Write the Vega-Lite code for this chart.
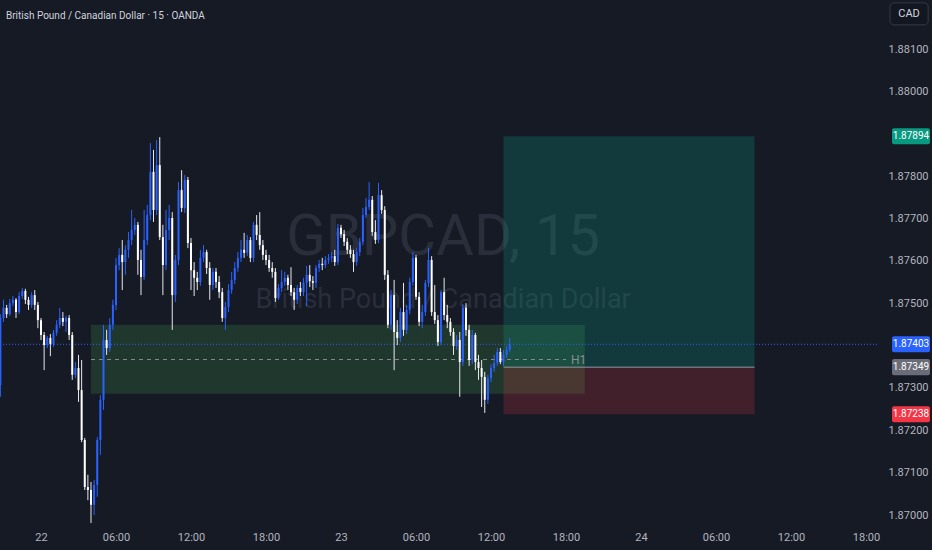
{
  "$schema": "https://vega.github.io/schema/vega-lite/v6.json",
  "width": 877,
  "height": 527,
  "autosize": "none",
  "padding": {"left": 0, "top": 0, "right": 55, "bottom": 23},
  "background": "#161a25",
  "config": {"view": {"stroke": null}, "font": "Roboto, sans-serif"},
  "datasets": {
    "candles": [
      {"hr":-3.25,"o":1.87307,"h":1.87474,"l":1.87279,"c":1.87465},
      {"hr":-3.0,"o":1.87465,"h":1.87508,"l":1.87456,"c":1.87489},
      {"hr":-2.75,"o":1.87489,"h":1.87496,"l":1.87465,"c":1.87474},
      {"hr":-2.5,"o":1.87474,"h":1.87510,"l":1.87470,"c":1.87500},
      {"hr":-2.25,"o":1.87500,"h":1.87517,"l":1.87493,"c":1.87508},
      {"hr":-2.0,"o":1.87508,"h":1.87512,"l":1.87465,"c":1.87479},
      {"hr":-1.75,"o":1.87479,"h":1.87526,"l":1.87474,"c":1.87517},
      {"hr":-1.5,"o":1.87517,"h":1.87536,"l":1.87510,"c":1.87529},
      {"hr":-1.25,"o":1.87529,"h":1.87534,"l":1.87498,"c":1.87508},
      {"hr":-1.0,"o":1.87508,"h":1.87515,"l":1.87484,"c":1.87496},
      {"hr":-0.75,"o":1.87496,"h":1.87526,"l":1.87489,"c":1.87519},
      {"hr":-0.5,"o":1.87519,"h":1.87531,"l":1.87484,"c":1.87496},
      {"hr":-0.25,"o":1.87496,"h":1.87503,"l":1.87441,"c":1.87460},
      {"hr":0.0,"o":1.87460,"h":1.87465,"l":1.87413,"c":1.87425},
      {"hr":0.25,"o":1.87425,"h":1.87432,"l":1.87342,"c":1.87401},
      {"hr":0.5,"o":1.87401,"h":1.87423,"l":1.87394,"c":1.87418},
      {"hr":0.75,"o":1.87418,"h":1.87427,"l":1.87375,"c":1.87404},
      {"hr":1.0,"o":1.87404,"h":1.87437,"l":1.87397,"c":1.87430},
      {"hr":1.25,"o":1.87430,"h":1.87460,"l":1.87423,"c":1.87449},
      {"hr":1.5,"o":1.87449,"h":1.87489,"l":1.87441,"c":1.87465},
      {"hr":1.75,"o":1.87465,"h":1.87479,"l":1.87446,"c":1.87456},
      {"hr":2.0,"o":1.87456,"h":1.87470,"l":1.87432,"c":1.87465},
      {"hr":2.25,"o":1.87465,"h":1.87472,"l":1.87413,"c":1.87425},
      {"hr":2.5,"o":1.87425,"h":1.87432,"l":1.87319,"c":1.87331},
      {"hr":2.75,"o":1.87331,"h":1.87361,"l":1.87323,"c":1.87347},
      {"hr":3.0,"o":1.87347,"h":1.87378,"l":1.87267,"c":1.87295},
      {"hr":3.25,"o":1.87295,"h":1.87366,"l":1.87172,"c":1.87177},
      {"hr":3.5,"o":1.87177,"h":1.87182,"l":1.87059,"c":1.87066},
      {"hr":3.75,"o":1.87066,"h":1.87095,"l":1.87035,"c":1.87059},
      {"hr":4.0,"o":1.87059,"h":1.87078,"l":1.86981,"c":1.87024},
      {"hr":4.25,"o":1.87024,"h":1.87083,"l":1.87000,"c":1.87071},
      {"hr":4.5,"o":1.87071,"h":1.87184,"l":1.87043,"c":1.87177},
      {"hr":4.75,"o":1.87177,"h":1.87283,"l":1.87142,"c":1.87272},
      {"hr":5.0,"o":1.87272,"h":1.87449,"l":1.87248,"c":1.87413},
      {"hr":5.25,"o":1.87413,"h":1.87437,"l":1.87378,"c":1.87394},
      {"hr":5.5,"o":1.87394,"h":1.87465,"l":1.87385,"c":1.87449},
      {"hr":5.75,"o":1.87449,"h":1.87508,"l":1.87437,"c":1.87496},
      {"hr":6.0,"o":1.87496,"h":1.87607,"l":1.87484,"c":1.87590},
      {"hr":6.25,"o":1.87590,"h":1.87630,"l":1.87578,"c":1.87614},
      {"hr":6.5,"o":1.87614,"h":1.87649,"l":1.87531,"c":1.87597},
      {"hr":6.75,"o":1.87597,"h":1.87637,"l":1.87567,"c":1.87626},
      {"hr":7.0,"o":1.87626,"h":1.87668,"l":1.87607,"c":1.87649},
      {"hr":7.25,"o":1.87649,"h":1.87720,"l":1.87637,"c":1.87673},
      {"hr":7.5,"o":1.87673,"h":1.87701,"l":1.87661,"c":1.87685},
      {"hr":7.75,"o":1.87685,"h":1.87692,"l":1.87567,"c":1.87602},
      {"hr":8.0,"o":1.87602,"h":1.87626,"l":1.87519,"c":1.87562},
      {"hr":8.25,"o":1.87562,"h":1.87720,"l":1.87555,"c":1.87649},
      {"hr":8.5,"o":1.87649,"h":1.87732,"l":1.87637,"c":1.87708},
      {"hr":8.75,"o":1.87708,"h":1.87878,"l":1.87696,"c":1.87810},
      {"hr":9.0,"o":1.87810,"h":1.87862,"l":1.87692,"c":1.87720},
      {"hr":9.25,"o":1.87720,"h":1.87885,"l":1.87708,"c":1.87826},
      {"hr":9.5,"o":1.87826,"h":1.87892,"l":1.87649,"c":1.87656},
      {"hr":9.75,"o":1.87656,"h":1.87685,"l":1.87519,"c":1.87590},
      {"hr":10.0,"o":1.87590,"h":1.87720,"l":1.87578,"c":1.87673},
      {"hr":10.25,"o":1.87673,"h":1.87732,"l":1.87649,"c":1.87701},
      {"hr":10.5,"o":1.87701,"h":1.87715,"l":1.87437,"c":1.87519},
      {"hr":10.75,"o":1.87519,"h":1.87614,"l":1.87503,"c":1.87602},
      {"hr":11.0,"o":1.87602,"h":1.87786,"l":1.87590,"c":1.87767},
      {"hr":11.25,"o":1.87767,"h":1.87814,"l":1.87715,"c":1.87725},
      {"hr":11.5,"o":1.87725,"h":1.87803,"l":1.87713,"c":1.87791},
      {"hr":11.75,"o":1.87791,"h":1.87798,"l":1.87630,"c":1.87642},
      {"hr":12.0,"o":1.87642,"h":1.87654,"l":1.87531,"c":1.87578},
      {"hr":12.25,"o":1.87578,"h":1.87597,"l":1.87517,"c":1.87560},
      {"hr":12.5,"o":1.87560,"h":1.87574,"l":1.87531,"c":1.87550},
      {"hr":12.75,"o":1.87550,"h":1.87626,"l":1.87541,"c":1.87607},
      {"hr":13.0,"o":1.87607,"h":1.87637,"l":1.87597,"c":1.87621},
      {"hr":13.25,"o":1.87621,"h":1.87626,"l":1.87569,"c":1.87583},
      {"hr":13.5,"o":1.87583,"h":1.87597,"l":1.87508,"c":1.87543},
      {"hr":13.75,"o":1.87543,"h":1.87583,"l":1.87531,"c":1.87574},
      {"hr":14.0,"o":1.87574,"h":1.87583,"l":1.87536,"c":1.87550},
      {"hr":14.25,"o":1.87550,"h":1.87564,"l":1.87512,"c":1.87526},
      {"hr":14.5,"o":1.87526,"h":1.87536,"l":1.87456,"c":1.87465},
      {"hr":14.75,"o":1.87465,"h":1.87503,"l":1.87437,"c":1.87491},
      {"hr":15.0,"o":1.87491,"h":1.87545,"l":1.87479,"c":1.87531},
      {"hr":15.25,"o":1.87531,"h":1.87574,"l":1.87522,"c":1.87555},
      {"hr":15.5,"o":1.87555,"h":1.87597,"l":1.87545,"c":1.87583},
      {"hr":15.75,"o":1.87583,"h":1.87621,"l":1.87574,"c":1.87607},
      {"hr":16.0,"o":1.87607,"h":1.87649,"l":1.87597,"c":1.87626},
      {"hr":16.25,"o":1.87626,"h":1.87666,"l":1.87607,"c":1.87619},
      {"hr":16.5,"o":1.87619,"h":1.87661,"l":1.87611,"c":1.87649},
      {"hr":16.75,"o":1.87649,"h":1.87656,"l":1.87597,"c":1.87607},
      {"hr":17.0,"o":1.87607,"h":1.87692,"l":1.87597,"c":1.87685},
      {"hr":17.25,"o":1.87685,"h":1.87708,"l":1.87649,"c":1.87661},
      {"hr":17.5,"o":1.87661,"h":1.87715,"l":1.87626,"c":1.87637},
      {"hr":17.75,"o":1.87637,"h":1.87649,"l":1.87602,"c":1.87614},
      {"hr":18.0,"o":1.87614,"h":1.87626,"l":1.87590,"c":1.87602},
      {"hr":18.25,"o":1.87602,"h":1.87614,"l":1.87574,"c":1.87583},
      {"hr":18.5,"o":1.87583,"h":1.87597,"l":1.87560,"c":1.87574},
      {"hr":18.75,"o":1.87574,"h":1.87583,"l":1.87503,"c":1.87512},
      {"hr":19.0,"o":1.87512,"h":1.87545,"l":1.87508,"c":1.87536},
      {"hr":19.25,"o":1.87536,"h":1.87578,"l":1.87526,"c":1.87550},
      {"hr":19.5,"o":1.87550,"h":1.87574,"l":1.87541,"c":1.87560},
      {"hr":19.75,"o":1.87560,"h":1.87567,"l":1.87531,"c":1.87543},
      {"hr":20.0,"o":1.87543,"h":1.87585,"l":1.87517,"c":1.87526},
      {"hr":20.25,"o":1.87526,"h":1.87536,"l":1.87484,"c":1.87508},
      {"hr":20.5,"o":1.87508,"h":1.87543,"l":1.87498,"c":1.87536},
      {"hr":20.75,"o":1.87536,"h":1.87550,"l":1.87517,"c":1.87526},
      {"hr":21.0,"o":1.87526,"h":1.87560,"l":1.87517,"c":1.87548},
      {"hr":21.25,"o":1.87548,"h":1.87588,"l":1.87493,"c":1.87567},
      {"hr":21.5,"o":1.87567,"h":1.87590,"l":1.87538,"c":1.87552},
      {"hr":21.75,"o":1.87552,"h":1.87564,"l":1.87531,"c":1.87548},
      {"hr":22.0,"o":1.87548,"h":1.87590,"l":1.87536,"c":1.87583},
      {"hr":22.25,"o":1.87583,"h":1.87602,"l":1.87574,"c":1.87593},
      {"hr":22.5,"o":1.87593,"h":1.87607,"l":1.87578,"c":1.87590},
      {"hr":22.75,"o":1.87590,"h":1.87611,"l":1.87583,"c":1.87602},
      {"hr":23.0,"o":1.87602,"h":1.87616,"l":1.87593,"c":1.87607},
      {"hr":23.25,"o":1.87607,"h":1.87621,"l":1.87597,"c":1.87611},
      {"hr":23.5,"o":1.87611,"h":1.87626,"l":1.87588,"c":1.87597},
      {"hr":23.75,"o":1.87597,"h":1.87687,"l":1.87590,"c":1.87678},
      {"hr":24.0,"o":1.87678,"h":1.87685,"l":1.87654,"c":1.87663},
      {"hr":24.25,"o":1.87663,"h":1.87673,"l":1.87635,"c":1.87645},
      {"hr":24.5,"o":1.87645,"h":1.87654,"l":1.87616,"c":1.87626},
      {"hr":24.75,"o":1.87626,"h":1.87637,"l":1.87607,"c":1.87616},
      {"hr":25.0,"o":1.87616,"h":1.87626,"l":1.87574,"c":1.87597},
      {"hr":25.25,"o":1.87597,"h":1.87630,"l":1.87588,"c":1.87621},
      {"hr":25.5,"o":1.87621,"h":1.87654,"l":1.87611,"c":1.87645},
      {"hr":25.75,"o":1.87645,"h":1.87725,"l":1.87637,"c":1.87708},
      {"hr":26.0,"o":1.87708,"h":1.87748,"l":1.87701,"c":1.87727},
      {"hr":26.25,"o":1.87727,"h":1.87786,"l":1.87720,"c":1.87744},
      {"hr":26.5,"o":1.87744,"h":1.87753,"l":1.87659,"c":1.87668},
      {"hr":26.75,"o":1.87668,"h":1.87696,"l":1.87640,"c":1.87649},
      {"hr":27.0,"o":1.87649,"h":1.87784,"l":1.87642,"c":1.87755},
      {"hr":27.25,"o":1.87755,"h":1.87767,"l":1.87711,"c":1.87720},
      {"hr":27.5,"o":1.87720,"h":1.87729,"l":1.87555,"c":1.87567},
      {"hr":27.75,"o":1.87567,"h":1.87578,"l":1.87441,"c":1.87449},
      {"hr":28.0,"o":1.87449,"h":1.87531,"l":1.87437,"c":1.87519},
      {"hr":28.25,"o":1.87519,"h":1.87555,"l":1.87342,"c":1.87432},
      {"hr":28.5,"o":1.87432,"h":1.87460,"l":1.87401,"c":1.87418},
      {"hr":28.75,"o":1.87418,"h":1.87489,"l":1.87408,"c":1.87479},
      {"hr":29.0,"o":1.87479,"h":1.87548,"l":1.87423,"c":1.87437},
      {"hr":29.25,"o":1.87437,"h":1.87496,"l":1.87427,"c":1.87484},
      {"hr":29.5,"o":1.87484,"h":1.87560,"l":1.87474,"c":1.87550},
      {"hr":29.75,"o":1.87550,"h":1.87621,"l":1.87541,"c":1.87607},
      {"hr":30.0,"o":1.87607,"h":1.87614,"l":1.87508,"c":1.87515},
      {"hr":30.25,"o":1.87515,"h":1.87526,"l":1.87446,"c":1.87456},
      {"hr":30.5,"o":1.87456,"h":1.87496,"l":1.87441,"c":1.87479},
      {"hr":30.75,"o":1.87479,"h":1.87555,"l":1.87470,"c":1.87548},
      {"hr":31.0,"o":1.87548,"h":1.87630,"l":1.87538,"c":1.87602},
      {"hr":31.25,"o":1.87602,"h":1.87611,"l":1.87470,"c":1.87479},
      {"hr":31.5,"o":1.87479,"h":1.87543,"l":1.87451,"c":1.87460},
      {"hr":31.75,"o":1.87460,"h":1.87472,"l":1.87399,"c":1.87408},
      {"hr":32.0,"o":1.87408,"h":1.87531,"l":1.87401,"c":1.87526},
      {"hr":32.25,"o":1.87526,"h":1.87560,"l":1.87460,"c":1.87472},
      {"hr":32.5,"o":1.87472,"h":1.87496,"l":1.87441,"c":1.87456},
      {"hr":32.75,"o":1.87456,"h":1.87465,"l":1.87423,"c":1.87432},
      {"hr":33.0,"o":1.87432,"h":1.87441,"l":1.87378,"c":1.87399},
      {"hr":33.25,"o":1.87399,"h":1.87425,"l":1.87390,"c":1.87413},
      {"hr":33.5,"o":1.87413,"h":1.87432,"l":1.87279,"c":1.87361},
      {"hr":33.75,"o":1.87361,"h":1.87498,"l":1.87352,"c":1.87489},
      {"hr":34.0,"o":1.87489,"h":1.87500,"l":1.87423,"c":1.87437},
      {"hr":34.25,"o":1.87437,"h":1.87449,"l":1.87352,"c":1.87366},
      {"hr":34.5,"o":1.87366,"h":1.87437,"l":1.87356,"c":1.87425},
      {"hr":34.75,"o":1.87425,"h":1.87430,"l":1.87342,"c":1.87361},
      {"hr":35.0,"o":1.87361,"h":1.87378,"l":1.87319,"c":1.87347},
      {"hr":35.25,"o":1.87347,"h":1.87366,"l":1.87255,"c":1.87326},
      {"hr":35.5,"o":1.87326,"h":1.87338,"l":1.87241,"c":1.87272},
      {"hr":35.75,"o":1.87272,"h":1.87331,"l":1.87262,"c":1.87323},
      {"hr":36.0,"o":1.87323,"h":1.87356,"l":1.87314,"c":1.87347},
      {"hr":36.25,"o":1.87347,"h":1.87378,"l":1.87338,"c":1.87359},
      {"hr":36.5,"o":1.87359,"h":1.87394,"l":1.87352,"c":1.87385},
      {"hr":36.75,"o":1.87385,"h":1.87394,"l":1.87356,"c":1.87361},
      {"hr":37.0,"o":1.87361,"h":1.87390,"l":1.87352,"c":1.87378},
      {"hr":37.25,"o":1.87378,"h":1.87399,"l":1.87371,"c":1.87390},
      {"hr":37.5,"o":1.87390,"h":1.87418,"l":1.87385,"c":1.87403}
    ],
    "zones": [
      {"kind":"demand","x1":4.0,"x2":43.5,"y1":1.87449,"y2":1.87286},
      {"kind":"target","x1":37.0,"x2":57.08,"y1":1.87349,"y2":1.87894},
      {"kind":"stop","x1":37.0,"x2":57.08,"y1":1.87238,"y2":1.87349}
    ],
    "levels": [
      {"kind":"mid","x1":4.0,"x2":42.0,"p":1.87367,"label":"H1","lx":42.4},
      {"kind":"entry","x1":37.0,"x2":57.08,"p":1.87349,"label":"","lx":37.0}
    ],
    "tags": [
      {"kind":"target","p":1.87894,"lo":1.87875,"hi":1.87913,"label":"1.87894","x1":68.08,"x2":71.12,"tx":69.6},
      {"kind":"last","p":1.87403,"lo":1.87384,"hi":1.87422,"label":"1.87403","x1":68.08,"x2":71.12,"tx":69.6},
      {"kind":"entry","p":1.87349,"lo":1.87330,"hi":1.87368,"label":"1.87349","x1":68.08,"x2":71.12,"tx":69.6},
      {"kind":"stop","p":1.87238,"lo":1.87219,"hi":1.87257,"label":"1.87238","x1":68.08,"x2":71.12,"tx":69.6}
    ],
    "notes": [
      {"kind":"watermark1","t":32.17,"p":1.87654,"label":"GBPCAD, 15"},
      {"kind":"watermark2","t":32.17,"p":1.87508,"label":"British Pound / Canadian Dollar"},
      {"kind":"title","t":-2.8,"p":1.88178,"label":"British Pound / Canadian Dollar · 15 · OANDA"},
      {"kind":"currency","t":69.44,"p":1.88183,"label":"CAD","x1":67.92,"x2":70.97,"y1":1.88209,"y2":1.88157}
    ]
  },
  "layer": [
    {
      "data": {"name": "notes"},
      "transform": [{"filter": "datum.kind == 'watermark1'"}],
      "mark": {"type": "text", "fontSize": 58, "color": "#2a2e3a", "align": "center", "baseline": "middle"},
      "encoding": {
        "x": {"field": "t", "type": "quantitative", "title": null,
          "scale": {"domain": [-3.28, 66.88], "nice": false, "zero": false, "padding": 0},
          "axis": {"values": [0, 6, 12, 18, 24, 30, 36, 42, 48, 54, 60, 66], "labelExpr": "datum.value % 24 == 0 ? '' + (22 + datum.value / 24) : (datum.value % 24 == 6 ? '06:00' : (datum.value % 24 == 12 ? '12:00' : '18:00'))", "grid": false, "ticks": false, "domain": false, "labelColor": "#b2b5be", "labelFontSize": 11, "labelPadding": 4, "labelFlush": false}},
        "y": {"field": "p", "type": "quantitative", "title": null,
          "scale": {"domain": [1.869717, 1.882157], "nice": false, "zero": false, "padding": 0},
          "axis": {"orient": "right", "values": [1.870,1.871,1.872,1.873,1.875,1.876,1.877,1.878,1.880,1.881], "format": ".5f", "grid": false, "ticks": false, "domain": false, "labelColor": "#b2b5be", "labelFontSize": 11, "labelAlign": "center", "labelPadding": 31}},
        "text": {"field": "label"}
      }
    },
    {
      "data": {"name": "notes"},
      "transform": [{"filter": "datum.kind == 'watermark2'"}],
      "mark": {"type": "text", "fontSize": 27, "color": "#2a2e3a", "align": "center", "baseline": "middle"},
      "encoding": {
        "x": {"field": "t", "type": "quantitative", "title": null},
        "y": {"field": "p", "type": "quantitative", "title": null},
        "text": {"field": "label"}
      }
    },
    {
      "data": {"name": "zones"},
      "transform": [{"filter": "datum.kind == 'demand'"}],
      "mark": {"type": "rect", "color": "#4caf50", "opacity": 0.2},
      "encoding": {
        "x": {"field": "x1", "type": "quantitative", "title": null}, "x2": {"field": "x2"},
        "y": {"field": "y1", "type": "quantitative", "title": null}, "y2": {"field": "y2"}
      }
    },
    {
      "data": {"name": "zones"},
      "transform": [{"filter": "datum.kind == 'target'"}],
      "mark": {"type": "rect", "color": "#089981", "opacity": 0.25},
      "encoding": {
        "x": {"field": "x1", "type": "quantitative", "title": null}, "x2": {"field": "x2"},
        "y": {"field": "y1", "type": "quantitative", "title": null}, "y2": {"field": "y2"}
      }
    },
    {
      "data": {"name": "zones"},
      "transform": [{"filter": "datum.kind == 'stop'"}],
      "mark": {"type": "rect", "color": "#f23645", "opacity": 0.2},
      "encoding": {
        "x": {"field": "x1", "type": "quantitative", "title": null}, "x2": {"field": "x2"},
        "y": {"field": "y1", "type": "quantitative", "title": null}, "y2": {"field": "y2"}
      }
    },
    {
      "data": {"name": "levels"},
      "transform": [{"filter": "datum.kind == 'mid'"}],
      "mark": {"type": "rule", "color": "#8a8d96", "strokeWidth": 1, "strokeDash": [4, 4]},
      "encoding": {
        "x": {"field": "x1", "type": "quantitative", "title": null}, "x2": {"field": "x2"},
        "y": {"field": "p", "type": "quantitative", "title": null}
      }
    },
    {
      "data": {"name": "levels"},
      "transform": [{"filter": "datum.kind == 'mid'"}],
      "mark": {"type": "text", "color": "#8a8d96", "fontSize": 12, "align": "left", "baseline": "middle"},
      "encoding": {
        "x": {"field": "lx", "type": "quantitative", "title": null},
        "y": {"field": "p", "type": "quantitative", "title": null},
        "text": {"field": "label"}
      }
    },
    {
      "data": {"name": "levels"},
      "transform": [{"filter": "datum.kind == 'entry'"}],
      "mark": {"type": "rule", "color": "#9598a1", "strokeWidth": 1},
      "encoding": {
        "x": {"field": "x1", "type": "quantitative", "title": null}, "x2": {"field": "x2"},
        "y": {"field": "p", "type": "quantitative", "title": null}
      }
    },
    {
      "data": {"name": "tags"},
      "transform": [{"filter": "datum.kind == 'last'"}],
      "mark": {"type": "rule", "color": "#2962ff", "strokeWidth": 1, "strokeDash": [1, 2]},
      "encoding": {
        "y": {"field": "p", "type": "quantitative", "title": null}
      }
    },
    {
      "data": {"name": "candles"},
      "mark": {"type": "rule", "strokeWidth": 1},
      "encoding": {
        "x": {"field": "hr", "type": "quantitative", "title": null},
        "y": {"field": "l", "type": "quantitative", "title": null},
        "y2": {"field": "h"},
        "color": {"condition": {"test": "datum.c >= datum.o", "value": "#2962ff"}, "value": "#e6e8ee"}
      }
    },
    {
      "data": {"name": "candles"},
      "mark": {"type": "bar", "size": 2},
      "encoding": {
        "x": {"field": "hr", "type": "quantitative", "title": null},
        "y": {"field": "o", "type": "quantitative", "title": null},
        "y2": {"field": "c"},
        "color": {"condition": {"test": "datum.c >= datum.o", "value": "#2962ff"}, "value": "#ffffff"}
      }
    },
    {
      "data": {"name": "notes"},
      "transform": [{"filter": "datum.kind == 'title'"}],
      "mark": {"type": "text", "fontSize": 10, "color": "#d1d4dc", "align": "left", "baseline": "middle"},
      "encoding": {
        "x": {"field": "t", "type": "quantitative", "title": null},
        "y": {"field": "p", "type": "quantitative", "title": null},
        "text": {"field": "label"}
      }
    },
    {
      "data": {"name": "notes"},
      "transform": [{"filter": "datum.kind == 'currency'"}],
      "mark": {"type": "rect", "fill": "#131722", "stroke": "#363a45", "strokeWidth": 1, "cornerRadius": 4},
      "encoding": {
        "x": {"field": "x1", "type": "quantitative", "title": null}, "x2": {"field": "x2"},
        "y": {"field": "y1", "type": "quantitative", "title": null}, "y2": {"field": "y2"}
      }
    },
    {
      "data": {"name": "notes"},
      "transform": [{"filter": "datum.kind == 'currency'"}],
      "mark": {"type": "text", "fontSize": 11, "color": "#d1d4dc", "align": "center", "baseline": "middle"},
      "encoding": {
        "x": {"field": "t", "type": "quantitative", "title": null},
        "y": {"field": "p", "type": "quantitative", "title": null},
        "text": {"field": "label"}
      }
    },
    {
      "data": {"name": "tags"},
      "mark": {"type": "rect", "cornerRadius": 2},
      "encoding": {
        "x": {"field": "x1", "type": "quantitative", "title": null}, "x2": {"field": "x2"},
        "y": {"field": "lo", "type": "quantitative", "title": null}, "y2": {"field": "hi"},
        "color": {"condition": [
          {"test": "datum.kind == 'target'", "value": "#089981"},
          {"test": "datum.kind == 'last'", "value": "#2962ff"},
          {"test": "datum.kind == 'entry'", "value": "#6a6d78"}
        ], "value": "#f23645"}
      }
    },
    {
      "data": {"name": "tags"},
      "mark": {"type": "text", "fontSize": 10, "color": "#ffffff", "align": "center", "baseline": "middle"},
      "encoding": {
        "x": {"field": "tx", "type": "quantitative", "title": null},
        "y": {"field": "p", "type": "quantitative", "title": null},
        "text": {"field": "label"}
      }
    }
  ]
}
